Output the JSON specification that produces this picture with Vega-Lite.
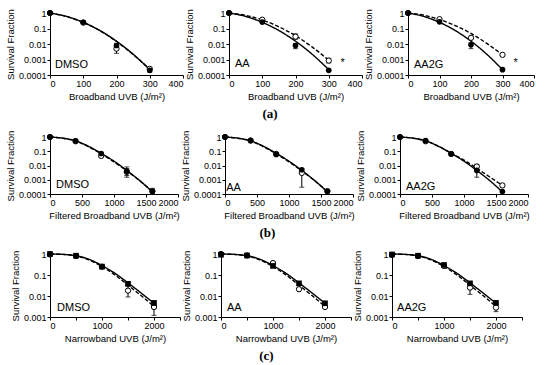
{
 "$schema": "https://vega.github.io/schema/vega-lite/v6.json",
 "background": "white",
 "padding": {"left": 5, "top": 8, "right": 5, "bottom": 3},
 "config": {
  "font": "Liberation Sans",
  "view": {"stroke": null},
  "axis": {"grid": false, "domainColor": "black", "domainWidth": 1, "tickColor": "black", "tickSize": 3, "labelColor": "black", "labelFontSize": 9, "titleFontSize": 9.5, "titleFontWeight": "normal", "titleColor": "black", "labelPadding": 1, "titlePadding": 3},
  "title": {"font": "Liberation Serif", "fontSize": 13, "fontWeight": "bold", "color": "black", "offset": 7}
 },
 "data": {"values": [
  {"p":"a","k":"f","s":"f","x":0,"y":1},{"p":"a","k":"f","s":"f","x":50,"y":0.6},{"p":"a","k":"f","s":"f","x":100,"y":0.25},{"p":"a","k":"f","s":"f","x":150,"y":0.074},{"p":"a","k":"f","s":"f","x":200,"y":0.0152},{"p":"a","k":"f","s":"f","x":250,"y":0.0022},{"p":"a","k":"f","s":"f","x":300,"y":0.00022},
  {"p":"a1","k":"f","s":"o","x":0,"y":1},{"p":"a1","k":"f","s":"o","x":50,"y":0.58},{"p":"a1","k":"f","s":"o","x":100,"y":0.245},{"p":"a1","k":"f","s":"o","x":150,"y":0.073},{"p":"a1","k":"f","s":"o","x":200,"y":0.0145},{"p":"a1","k":"f","s":"o","x":250,"y":0.0021},{"p":"a1","k":"f","s":"o","x":300,"y":0.00024},
  {"p":"a2","k":"f","s":"o","x":0,"y":1},{"p":"a2","k":"f","s":"o","x":50,"y":0.7},{"p":"a2","k":"f","s":"o","x":100,"y":0.355},{"p":"a2","k":"f","s":"o","x":150,"y":0.129},{"p":"a2","k":"f","s":"o","x":200,"y":0.034},{"p":"a2","k":"f","s":"o","x":250,"y":0.0065},{"p":"a2","k":"f","s":"o","x":300,"y":0.00089},
  {"p":"a3","k":"f","s":"o","x":0,"y":1},{"p":"a3","k":"f","s":"o","x":50,"y":0.72},{"p":"a3","k":"f","s":"o","x":100,"y":0.38},{"p":"a3","k":"f","s":"o","x":150,"y":0.155},{"p":"a3","k":"f","s":"o","x":200,"y":0.048},{"p":"a3","k":"f","s":"o","x":250,"y":0.011},{"p":"a3","k":"f","s":"o","x":300,"y":0.002},
  {"p":"b","k":"f","s":"f","x":0,"y":1},{"p":"b","k":"f","s":"f","x":200,"y":0.83},{"p":"b","k":"f","s":"f","x":400,"y":0.54},{"p":"b","k":"f","s":"f","x":600,"y":0.224},{"p":"b","k":"f","s":"f","x":800,"y":0.071},{"p":"b","k":"f","s":"f","x":1000,"y":0.02},{"p":"b","k":"f","s":"f","x":1200,"y":0.0045},{"p":"b","k":"f","s":"f","x":1400,"y":0.00089},{"p":"b","k":"f","s":"f","x":1600,"y":0.00014},
  {"p":"b12","k":"f","s":"o","x":0,"y":1},{"p":"b12","k":"f","s":"o","x":200,"y":0.82},{"p":"b12","k":"f","s":"o","x":400,"y":0.52},{"p":"b12","k":"f","s":"o","x":600,"y":0.21},{"p":"b12","k":"f","s":"o","x":800,"y":0.066},{"p":"b12","k":"f","s":"o","x":1000,"y":0.018},{"p":"b12","k":"f","s":"o","x":1200,"y":0.0042},{"p":"b12","k":"f","s":"o","x":1400,"y":0.00085},{"p":"b12","k":"f","s":"o","x":1600,"y":0.00015},
  {"p":"b3","k":"f","s":"o","x":0,"y":1},{"p":"b3","k":"f","s":"o","x":200,"y":0.83},{"p":"b3","k":"f","s":"o","x":400,"y":0.54},{"p":"b3","k":"f","s":"o","x":600,"y":0.224},{"p":"b3","k":"f","s":"o","x":800,"y":0.074},{"p":"b3","k":"f","s":"o","x":1000,"y":0.024},{"p":"b3","k":"f","s":"o","x":1200,"y":0.0063},{"p":"b3","k":"f","s":"o","x":1400,"y":0.0016},{"p":"b3","k":"f","s":"o","x":1600,"y":0.0004},
  {"p":"c","k":"f","s":"f","x":0,"y":1},{"p":"c","k":"f","s":"f","x":250,"y":0.955},{"p":"c","k":"f","s":"f","x":500,"y":0.83},{"p":"c","k":"f","s":"f","x":750,"y":0.56},{"p":"c","k":"f","s":"f","x":1000,"y":0.28},{"p":"c","k":"f","s":"f","x":1250,"y":0.12},{"p":"c","k":"f","s":"f","x":1500,"y":0.042},{"p":"c","k":"f","s":"f","x":1750,"y":0.014},{"p":"c","k":"f","s":"f","x":2000,"y":0.0045},
  {"p":"c","k":"f","s":"o","x":0,"y":1},{"p":"c","k":"f","s":"o","x":250,"y":0.955},{"p":"c","k":"f","s":"o","x":500,"y":0.81},{"p":"c","k":"f","s":"o","x":750,"y":0.52},{"p":"c","k":"f","s":"o","x":1000,"y":0.25},{"p":"c","k":"f","s":"o","x":1250,"y":0.1},{"p":"c","k":"f","s":"o","x":1500,"y":0.033},{"p":"c","k":"f","s":"o","x":1750,"y":0.0105},{"p":"c","k":"f","s":"o","x":2000,"y":0.0032},

  {"p":"a1","k":"p","s":"o","x":0,"y":1},{"p":"a1","k":"p","s":"o","x":100,"y":0.24},{"p":"a1","k":"p","s":"o","x":200,"y":0.005,"lo":0.0025,"hi":0.009},{"p":"a1","k":"p","s":"o","x":300,"y":0.00025},
  {"p":"a1","k":"p","s":"f","x":0,"y":1},{"p":"a1","k":"p","s":"f","x":100,"y":0.25},{"p":"a1","k":"p","s":"f","x":200,"y":0.008,"lo":0.006,"hi":0.011},{"p":"a1","k":"p","s":"f","x":300,"y":0.0002,"lo":0.00015,"hi":0.0003},
  {"p":"a2","k":"p","s":"o","x":0,"y":1},{"p":"a2","k":"p","s":"o","x":100,"y":0.37},{"p":"a2","k":"p","s":"o","x":200,"y":0.03,"lo":0.02,"hi":0.045},{"p":"a2","k":"p","s":"o","x":300,"y":0.00085,"lo":0.0006,"hi":0.0012},
  {"p":"a2","k":"p","s":"f","x":0,"y":1},{"p":"a2","k":"p","s":"f","x":100,"y":0.26},{"p":"a2","k":"p","s":"f","x":200,"y":0.008,"lo":0.005,"hi":0.011},{"p":"a2","k":"p","s":"f","x":300,"y":0.0002},
  {"p":"a3","k":"p","s":"o","x":0,"y":1},{"p":"a3","k":"p","s":"o","x":100,"y":0.4},{"p":"a3","k":"p","s":"o","x":200,"y":0.025},{"p":"a3","k":"p","s":"o","x":300,"y":0.002},
  {"p":"a3","k":"p","s":"f","x":0,"y":1},{"p":"a3","k":"p","s":"f","x":100,"y":0.27},{"p":"a3","k":"p","s":"f","x":200,"y":0.009,"lo":0.005,"hi":0.012},{"p":"a3","k":"p","s":"f","x":300,"y":0.00022},
  {"p":"b1","k":"p","s":"o","x":0,"y":1},{"p":"b1","k":"p","s":"o","x":400,"y":0.5},{"p":"b1","k":"p","s":"o","x":800,"y":0.047},{"p":"b1","k":"p","s":"o","x":1200,"y":0.0035,"lo":0.0015,"hi":0.006},{"p":"b1","k":"p","s":"o","x":1600,"y":0.00016,"lo":0.0001,"hi":0.00025},
  {"p":"b1","k":"p","s":"f","x":0,"y":1},{"p":"b1","k":"p","s":"f","x":400,"y":0.53},{"p":"b1","k":"p","s":"f","x":800,"y":0.07},{"p":"b1","k":"p","s":"f","x":1200,"y":0.004,"lo":0.002,"hi":0.008},{"p":"b1","k":"p","s":"f","x":1600,"y":0.00015},
  {"p":"b2","k":"p","s":"o","x":0,"y":1},{"p":"b2","k":"p","s":"o","x":400,"y":0.55},{"p":"b2","k":"p","s":"o","x":800,"y":0.065},{"p":"b2","k":"p","s":"o","x":1200,"y":0.003,"lo":0.0003,"hi":0.0055},{"p":"b2","k":"p","s":"o","x":1600,"y":0.00016},
  {"p":"b2","k":"p","s":"f","x":0,"y":1},{"p":"b2","k":"p","s":"f","x":400,"y":0.58},{"p":"b2","k":"p","s":"f","x":800,"y":0.06},{"p":"b2","k":"p","s":"f","x":1200,"y":0.005},{"p":"b2","k":"p","s":"f","x":1600,"y":0.00015},
  {"p":"b3","k":"p","s":"o","x":0,"y":1},{"p":"b3","k":"p","s":"o","x":400,"y":0.5},{"p":"b3","k":"p","s":"o","x":800,"y":0.065},{"p":"b3","k":"p","s":"o","x":1200,"y":0.0085,"lo":0.005,"hi":0.012},{"p":"b3","k":"p","s":"o","x":1600,"y":0.0004,"lo":0.0003,"hi":0.0005},
  {"p":"b3","k":"p","s":"f","x":0,"y":1},{"p":"b3","k":"p","s":"f","x":400,"y":0.55},{"p":"b3","k":"p","s":"f","x":800,"y":0.063},{"p":"b3","k":"p","s":"f","x":1200,"y":0.0045,"lo":0.0015,"hi":0.007},{"p":"b3","k":"p","s":"f","x":1600,"y":0.00015},
  {"p":"c1","k":"p","s":"o","x":0,"y":0.95},{"p":"c1","k":"p","s":"o","x":500,"y":0.8},{"p":"c1","k":"p","s":"o","x":1000,"y":0.25},{"p":"c1","k":"p","s":"o","x":1500,"y":0.018,"lo":0.009,"hi":0.03},{"p":"c1","k":"p","s":"o","x":2000,"y":0.003,"lo":0.0012,"hi":0.005},
  {"p":"c1","k":"p","s":"f","x":0,"y":1},{"p":"c1","k":"p","s":"f","x":500,"y":0.83},{"p":"c1","k":"p","s":"f","x":1000,"y":0.25},{"p":"c1","k":"p","s":"f","x":1500,"y":0.038},{"p":"c1","k":"p","s":"f","x":2000,"y":0.0046,"lo":0.0025,"hi":0.006},
  {"p":"c2","k":"p","s":"o","x":0,"y":1},{"p":"c2","k":"p","s":"o","x":500,"y":0.85},{"p":"c2","k":"p","s":"o","x":1000,"y":0.37},{"p":"c2","k":"p","s":"o","x":1500,"y":0.021},{"p":"c2","k":"p","s":"o","x":2000,"y":0.003},
  {"p":"c2","k":"p","s":"f","x":0,"y":0.92},{"p":"c2","k":"p","s":"f","x":500,"y":0.85},{"p":"c2","k":"p","s":"f","x":1000,"y":0.27},{"p":"c2","k":"p","s":"f","x":1500,"y":0.04},{"p":"c2","k":"p","s":"f","x":2000,"y":0.0045},
  {"p":"c3","k":"p","s":"o","x":0,"y":0.9},{"p":"c3","k":"p","s":"o","x":500,"y":0.8},{"p":"c3","k":"p","s":"o","x":1000,"y":0.27},{"p":"c3","k":"p","s":"o","x":1500,"y":0.025,"lo":0.012,"hi":0.04},{"p":"c3","k":"p","s":"o","x":2000,"y":0.0028,"lo":0.0018,"hi":0.004},
  {"p":"c3","k":"p","s":"f","x":0,"y":0.95},{"p":"c3","k":"p","s":"f","x":500,"y":0.83},{"p":"c3","k":"p","s":"f","x":1000,"y":0.3},{"p":"c3","k":"p","s":"f","x":1500,"y":0.04},{"p":"c3","k":"p","s":"f","x":2000,"y":0.0047},

  {"p":"a1","k":"l","x":15,"y":0.00045,"t":"DMSO"},
  {"p":"a2","k":"l","x":18,"y":0.0005,"t":"AA"},{"p":"a2","k":"l","x":335,"y":0.0006,"t":"*"},
  {"p":"a3","k":"l","x":19,"y":0.00045,"t":"AA2G"},{"p":"a3","k":"l","x":335,"y":0.0006,"t":"*"},
  {"p":"b1","k":"l","x":95,"y":0.0004,"t":"DMSO"},
  {"p":"b2","k":"l","x":20,"y":0.00025,"t":"AA"},
  {"p":"b3","k":"l","x":93,"y":0.0003,"t":"AA2G"},
  {"p":"c1","k":"l","x":135,"y":0.0028,"t":"DMSO"},
  {"p":"c2","k":"l","x":115,"y":0.0028,"t":"AA"},
  {"p":"c3","k":"l","x":97,"y":0.0028,"t":"AA2G"}
 ]},
 "spacing": 9,
 "vconcat": [
  {"spacing": 0, "title": {"text": "(a)", "orient": "bottom", "anchor": "middle"}, "hconcat": [
   {"width": 133, "height": 62, "transform": [{"filter": {"field": "p", "oneOf": ["a1", "a"]}}],
    "encoding": {"x": {"field": "x", "type": "quantitative", "scale": {"domain": [0, 400], "nice": false}, "axis": {"values": [0, 100, 200, 300, 400], "format": "d", "title": "Broadband UVB (J/m²)"}},
                 "y": {"field": "y", "type": "quantitative", "scale": {"type": "log", "domain": [0.0001, 1]}, "axis": {"values": [0.0001, 0.001, 0.01, 0.1, 1], "format": "~g", "title": "Survival Fraction"}}},
    "layer": [
     {"transform": [{"filter": "datum.k == 'f'"}], "mark": {"type": "line", "interpolate": "monotone", "color": "black", "strokeWidth": 1.4}, "encoding": {"strokeDash": {"field": "s", "type": "nominal", "scale": {"domain": ["f", "o"], "range": [[1, 0], [4, 2]]}, "legend": null}}},
     {"transform": [{"filter": "datum.k == 'p' && isValid(datum.lo)"}], "mark": {"type": "errorbar", "ticks": true, "color": "black"}, "encoding": {"y": {"field": "lo", "type": "quantitative", "title": "Survival Fraction"}, "y2": {"field": "hi"}}},
     {"transform": [{"filter": "datum.k == 'p' && datum.s == 'o'"}], "mark": {"type": "point", "shape": "circle", "fill": "white", "stroke": "black", "strokeWidth": 1, "opacity": 1, "size": 28}},
     {"transform": [{"filter": "datum.k == 'p' && datum.s == 'f'"}], "mark": {"type": "point", "shape": "circle", "filled": true, "color": "black", "opacity": 1, "size": 32}},
     {"transform": [{"filter": "datum.k == 'l'"}], "mark": {"type": "text", "align": "left", "baseline": "middle", "fontSize": 11, "color": "black"}, "encoding": {"text": {"field": "t"}}}
    ]},
   {"width": 133, "height": 62, "transform": [{"filter": {"field": "p", "oneOf": ["a2", "a"]}}],
    "encoding": {"x": {"field": "x", "type": "quantitative", "scale": {"domain": [0, 400], "nice": false}, "axis": {"values": [0, 100, 200, 300, 400], "format": "d", "title": "Broadband UVB (J/m²)"}},
                 "y": {"field": "y", "type": "quantitative", "scale": {"type": "log", "domain": [0.0001, 1]}, "axis": {"values": [0.0001, 0.001, 0.01, 0.1, 1], "format": "~g", "title": "Survival Fraction"}}},
    "layer": [
     {"transform": [{"filter": "datum.k == 'f'"}], "mark": {"type": "line", "interpolate": "monotone", "color": "black", "strokeWidth": 1.4}, "encoding": {"strokeDash": {"field": "s", "type": "nominal", "scale": {"domain": ["f", "o"], "range": [[1, 0], [4, 2]]}, "legend": null}}},
     {"transform": [{"filter": "datum.k == 'p' && isValid(datum.lo)"}], "mark": {"type": "errorbar", "ticks": true, "color": "black"}, "encoding": {"y": {"field": "lo", "type": "quantitative", "title": "Survival Fraction"}, "y2": {"field": "hi"}}},
     {"transform": [{"filter": "datum.k == 'p' && datum.s == 'o'"}], "mark": {"type": "point", "shape": "circle", "fill": "white", "stroke": "black", "strokeWidth": 1, "opacity": 1, "size": 28}},
     {"transform": [{"filter": "datum.k == 'p' && datum.s == 'f'"}], "mark": {"type": "point", "shape": "circle", "filled": true, "color": "black", "opacity": 1, "size": 32}},
     {"transform": [{"filter": "datum.k == 'l'"}], "mark": {"type": "text", "align": "left", "baseline": "middle", "fontSize": 11, "color": "black"}, "encoding": {"text": {"field": "t"}}}
    ]},
   {"width": 126, "height": 62, "transform": [{"filter": {"field": "p", "oneOf": ["a3", "a"]}}],
    "encoding": {"x": {"field": "x", "type": "quantitative", "scale": {"domain": [0, 400], "nice": false}, "axis": {"values": [0, 100, 200, 300, 400], "format": "d", "title": "Broadband UVB (J/m²)"}},
                 "y": {"field": "y", "type": "quantitative", "scale": {"type": "log", "domain": [0.0001, 1]}, "axis": {"values": [0.0001, 0.001, 0.01, 0.1, 1], "format": "~g", "title": "Survival Fraction"}}},
    "layer": [
     {"transform": [{"filter": "datum.k == 'f'"}], "mark": {"type": "line", "interpolate": "monotone", "color": "black", "strokeWidth": 1.4}, "encoding": {"strokeDash": {"field": "s", "type": "nominal", "scale": {"domain": ["f", "o"], "range": [[1, 0], [4, 2]]}, "legend": null}}},
     {"transform": [{"filter": "datum.k == 'p' && isValid(datum.lo)"}], "mark": {"type": "errorbar", "ticks": true, "color": "black"}, "encoding": {"y": {"field": "lo", "type": "quantitative", "title": "Survival Fraction"}, "y2": {"field": "hi"}}},
     {"transform": [{"filter": "datum.k == 'p' && datum.s == 'o'"}], "mark": {"type": "point", "shape": "circle", "fill": "white", "stroke": "black", "strokeWidth": 1, "opacity": 1, "size": 28}},
     {"transform": [{"filter": "datum.k == 'p' && datum.s == 'f'"}], "mark": {"type": "point", "shape": "circle", "filled": true, "color": "black", "opacity": 1, "size": 32}},
     {"transform": [{"filter": "datum.k == 'l'"}], "mark": {"type": "text", "align": "left", "baseline": "middle", "fontSize": 11, "color": "black"}, "encoding": {"text": {"field": "t"}}}
    ]}
  ]},
  {"spacing": 0, "title": {"text": "(b)", "orient": "bottom", "anchor": "middle"}, "hconcat": [
   {"width": 128, "height": 57, "transform": [{"filter": {"field": "p", "oneOf": ["b1", "b", "b12"]}}],
    "encoding": {"x": {"field": "x", "type": "quantitative", "scale": {"domain": [0, 2000], "nice": false}, "axis": {"values": [0, 500, 1000, 1500, 2000], "format": "d", "title": "Filtered Broadband UVB (J/m²)"}},
                 "y": {"field": "y", "type": "quantitative", "scale": {"type": "log", "domain": [0.0001, 1]}, "axis": {"values": [0.0001, 0.001, 0.01, 0.1, 1], "format": "~g", "title": "Survival Fraction"}}},
    "layer": [
     {"transform": [{"filter": "datum.k == 'f'"}], "mark": {"type": "line", "interpolate": "monotone", "color": "black", "strokeWidth": 1.4}, "encoding": {"strokeDash": {"field": "s", "type": "nominal", "scale": {"domain": ["f", "o"], "range": [[1, 0], [4, 2]]}, "legend": null}}},
     {"transform": [{"filter": "datum.k == 'p' && isValid(datum.lo)"}], "mark": {"type": "errorbar", "ticks": true, "color": "black"}, "encoding": {"y": {"field": "lo", "type": "quantitative", "title": "Survival Fraction"}, "y2": {"field": "hi"}}},
     {"transform": [{"filter": "datum.k == 'p' && datum.s == 'o'"}], "mark": {"type": "point", "shape": "circle", "fill": "white", "stroke": "black", "strokeWidth": 1, "opacity": 1, "size": 28}},
     {"transform": [{"filter": "datum.k == 'p' && datum.s == 'f'"}], "mark": {"type": "point", "shape": "circle", "filled": true, "color": "black", "opacity": 1, "size": 32}},
     {"transform": [{"filter": "datum.k == 'l'"}], "mark": {"type": "text", "align": "left", "baseline": "middle", "fontSize": 11, "color": "black"}, "encoding": {"text": {"field": "t"}}}
    ]},
   {"width": 128, "height": 57, "transform": [{"filter": {"field": "p", "oneOf": ["b2", "b", "b12"]}}],
    "encoding": {"x": {"field": "x", "type": "quantitative", "scale": {"domain": [0, 2000], "nice": false}, "axis": {"values": [0, 500, 1000, 1500, 2000], "format": "d", "title": "Filtered Broadband UVB (J/m²)"}},
                 "y": {"field": "y", "type": "quantitative", "scale": {"type": "log", "domain": [0.0001, 1]}, "axis": {"values": [0.0001, 0.001, 0.01, 0.1, 1], "format": "~g", "title": "Survival Fraction"}}},
    "layer": [
     {"transform": [{"filter": "datum.k == 'f'"}], "mark": {"type": "line", "interpolate": "monotone", "color": "black", "strokeWidth": 1.4}, "encoding": {"strokeDash": {"field": "s", "type": "nominal", "scale": {"domain": ["f", "o"], "range": [[1, 0], [4, 2]]}, "legend": null}}},
     {"transform": [{"filter": "datum.k == 'p' && isValid(datum.lo)"}], "mark": {"type": "errorbar", "ticks": true, "color": "black"}, "encoding": {"y": {"field": "lo", "type": "quantitative", "title": "Survival Fraction"}, "y2": {"field": "hi"}}},
     {"transform": [{"filter": "datum.k == 'p' && datum.s == 'o'"}], "mark": {"type": "point", "shape": "circle", "fill": "white", "stroke": "black", "strokeWidth": 1, "opacity": 1, "size": 28}},
     {"transform": [{"filter": "datum.k == 'p' && datum.s == 'f'"}], "mark": {"type": "point", "shape": "circle", "filled": true, "color": "black", "opacity": 1, "size": 32}},
     {"transform": [{"filter": "datum.k == 'l'"}], "mark": {"type": "text", "align": "left", "baseline": "middle", "fontSize": 11, "color": "black"}, "encoding": {"text": {"field": "t"}}}
    ]},
   {"width": 128, "height": 57, "transform": [{"filter": {"field": "p", "oneOf": ["b3", "b"]}}],
    "encoding": {"x": {"field": "x", "type": "quantitative", "scale": {"domain": [0, 2000], "nice": false}, "axis": {"values": [0, 500, 1000, 1500, 2000], "format": "d", "title": "Filtered Broadband UVB (J/m²)"}},
                 "y": {"field": "y", "type": "quantitative", "scale": {"type": "log", "domain": [0.0001, 1]}, "axis": {"values": [0.0001, 0.001, 0.01, 0.1, 1], "format": "~g", "title": "Survival Fraction"}}},
    "layer": [
     {"transform": [{"filter": "datum.k == 'f'"}], "mark": {"type": "line", "interpolate": "monotone", "color": "black", "strokeWidth": 1.4}, "encoding": {"strokeDash": {"field": "s", "type": "nominal", "scale": {"domain": ["f", "o"], "range": [[1, 0], [4, 2]]}, "legend": null}}},
     {"transform": [{"filter": "datum.k == 'p' && isValid(datum.lo)"}], "mark": {"type": "errorbar", "ticks": true, "color": "black"}, "encoding": {"y": {"field": "lo", "type": "quantitative", "title": "Survival Fraction"}, "y2": {"field": "hi"}}},
     {"transform": [{"filter": "datum.k == 'p' && datum.s == 'o'"}], "mark": {"type": "point", "shape": "circle", "fill": "white", "stroke": "black", "strokeWidth": 1, "opacity": 1, "size": 28}},
     {"transform": [{"filter": "datum.k == 'p' && datum.s == 'f'"}], "mark": {"type": "point", "shape": "circle", "filled": true, "color": "black", "opacity": 1, "size": 32}},
     {"transform": [{"filter": "datum.k == 'l'"}], "mark": {"type": "text", "align": "left", "baseline": "middle", "fontSize": 11, "color": "black"}, "encoding": {"text": {"field": "t"}}}
    ]}
  ]},
  {"spacing": 0, "title": {"text": "(c)", "orient": "bottom", "anchor": "middle"}, "hconcat": [
   {"width": 130, "height": 63, "transform": [{"filter": {"field": "p", "oneOf": ["c1", "c"]}}],
    "encoding": {"x": {"field": "x", "type": "quantitative", "scale": {"domain": [0, 2500], "nice": false}, "axis": {"values": [0, 500, 1000, 1500, 2000, 2500], "format": "d", "title": "Narrowband UVB (J/m²)"}},
                 "y": {"field": "y", "type": "quantitative", "scale": {"type": "log", "domain": [0.001, 1]}, "axis": {"values": [0.001, 0.01, 0.1, 1], "format": "~g", "title": "Survival Fraction"}}},
    "layer": [
     {"transform": [{"filter": "datum.k == 'f'"}], "mark": {"type": "line", "interpolate": "monotone", "color": "black", "strokeWidth": 1.4}, "encoding": {"strokeDash": {"field": "s", "type": "nominal", "scale": {"domain": ["f", "o"], "range": [[1, 0], [4, 2]]}, "legend": null}}},
     {"transform": [{"filter": "datum.k == 'p' && isValid(datum.lo)"}], "mark": {"type": "errorbar", "ticks": true, "color": "black"}, "encoding": {"y": {"field": "lo", "type": "quantitative", "title": "Survival Fraction"}, "y2": {"field": "hi"}}},
     {"transform": [{"filter": "datum.k == 'p' && datum.s == 'o'"}], "mark": {"type": "point", "shape": "circle", "fill": "white", "stroke": "black", "strokeWidth": 1, "opacity": 1, "size": 28}},
     {"transform": [{"filter": "datum.k == 'p' && datum.s == 'f'"}], "mark": {"type": "point", "shape": "square", "filled": true, "color": "black", "opacity": 1, "size": 32}},
     {"transform": [{"filter": "datum.k == 'l'"}], "mark": {"type": "text", "align": "left", "baseline": "middle", "fontSize": 11, "color": "black"}, "encoding": {"text": {"field": "t"}}}
    ]},
   {"width": 130, "height": 63, "transform": [{"filter": {"field": "p", "oneOf": ["c2", "c"]}}],
    "encoding": {"x": {"field": "x", "type": "quantitative", "scale": {"domain": [0, 2500], "nice": false}, "axis": {"values": [0, 500, 1000, 1500, 2000, 2500], "format": "d", "title": "Narrowband UVB (J/m²)"}},
                 "y": {"field": "y", "type": "quantitative", "scale": {"type": "log", "domain": [0.001, 1]}, "axis": {"values": [0.001, 0.01, 0.1, 1], "format": "~g", "title": "Survival Fraction"}}},
    "layer": [
     {"transform": [{"filter": "datum.k == 'f'"}], "mark": {"type": "line", "interpolate": "monotone", "color": "black", "strokeWidth": 1.4}, "encoding": {"strokeDash": {"field": "s", "type": "nominal", "scale": {"domain": ["f", "o"], "range": [[1, 0], [4, 2]]}, "legend": null}}},
     {"transform": [{"filter": "datum.k == 'p' && isValid(datum.lo)"}], "mark": {"type": "errorbar", "ticks": true, "color": "black"}, "encoding": {"y": {"field": "lo", "type": "quantitative", "title": "Survival Fraction"}, "y2": {"field": "hi"}}},
     {"transform": [{"filter": "datum.k == 'p' && datum.s == 'o'"}], "mark": {"type": "point", "shape": "circle", "fill": "white", "stroke": "black", "strokeWidth": 1, "opacity": 1, "size": 28}},
     {"transform": [{"filter": "datum.k == 'p' && datum.s == 'f'"}], "mark": {"type": "point", "shape": "square", "filled": true, "color": "black", "opacity": 1, "size": 32}},
     {"transform": [{"filter": "datum.k == 'l'"}], "mark": {"type": "text", "align": "left", "baseline": "middle", "fontSize": 11, "color": "black"}, "encoding": {"text": {"field": "t"}}}
    ]},
   {"width": 130, "height": 63, "transform": [{"filter": {"field": "p", "oneOf": ["c3", "c"]}}],
    "encoding": {"x": {"field": "x", "type": "quantitative", "scale": {"domain": [0, 2500], "nice": false}, "axis": {"values": [0, 500, 1000, 1500, 2000, 2500], "format": "d", "title": "Narrowband UVB (J/m²)"}},
                 "y": {"field": "y", "type": "quantitative", "scale": {"type": "log", "domain": [0.001, 1]}, "axis": {"values": [0.001, 0.01, 0.1, 1], "format": "~g", "title": "Survival Fraction"}}},
    "layer": [
     {"transform": [{"filter": "datum.k == 'f'"}], "mark": {"type": "line", "interpolate": "monotone", "color": "black", "strokeWidth": 1.4}, "encoding": {"strokeDash": {"field": "s", "type": "nominal", "scale": {"domain": ["f", "o"], "range": [[1, 0], [4, 2]]}, "legend": null}}},
     {"transform": [{"filter": "datum.k == 'p' && isValid(datum.lo)"}], "mark": {"type": "errorbar", "ticks": true, "color": "black"}, "encoding": {"y": {"field": "lo", "type": "quantitative", "title": "Survival Fraction"}, "y2": {"field": "hi"}}},
     {"transform": [{"filter": "datum.k == 'p' && datum.s == 'o'"}], "mark": {"type": "point", "shape": "circle", "fill": "white", "stroke": "black", "strokeWidth": 1, "opacity": 1, "size": 28}},
     {"transform": [{"filter": "datum.k == 'p' && datum.s == 'f'"}], "mark": {"type": "point", "shape": "square", "filled": true, "color": "black", "opacity": 1, "size": 32}},
     {"transform": [{"filter": "datum.k == 'l'"}], "mark": {"type": "text", "align": "left", "baseline": "middle", "fontSize": 11, "color": "black"}, "encoding": {"text": {"field": "t"}}}
    ]}
  ]}
 ]
}
